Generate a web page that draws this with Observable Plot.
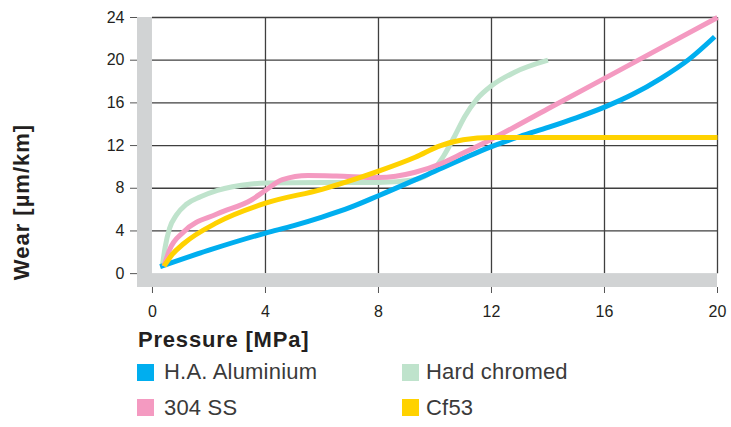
<!DOCTYPE html>
<html><head><meta charset="utf-8">
<script src="https://cdn.jsdelivr.net/npm/d3@7"></script>
<script src="https://cdn.jsdelivr.net/npm/@observablehq/plot@0.6"></script>
<style>
body{margin:0;background:#fff;font-family:"Liberation Sans",Arial,Helvetica,sans-serif;}
#wrap{position:relative;width:731px;height:427px;overflow:hidden;}
#chart{position:absolute;left:0;top:0;}
#ytitle{position:absolute;left:22px;top:202px;transform:translate(-50%,-50%) rotate(-90deg);font-size:22px;line-height:22px;font-weight:bold;letter-spacing:1px;white-space:nowrap;color:#231f20;}
#xtitle{position:absolute;left:138px;top:329px;font-size:22px;line-height:22px;font-weight:bold;letter-spacing:0.8px;color:#231f20;white-space:nowrap;}
.leg{position:absolute;font-size:22px;line-height:22px;color:#3a3a3a;white-space:nowrap;letter-spacing:0.2px;}
.sw{position:absolute;width:17px;height:17px;}
</style></head>
<body>
<div id="wrap"><div id="chart"></div><div id="ytitle">Wear [µm/km]</div><div id="xtitle">Pressure [MPa]</div><div id="legend"></div></div>
<script>
// Tick labels
const xTicks = [0, 4, 8, 12, 16, 20];
const yTicks = [0, 4, 8, 12, 16, 20, 24];

// Series names and colours
const seriesNames = ["H.A. Aluminium", "Hard chromed", "304 SS", "Cf53"];
const seriesColors = ["#00aeef", "#bfe3cc", "#f49ac1", "#ffd200"];

// H.A. Aluminium
const aluX = [0.27, 2, 4, 5, 6, 7, 8, 10, 12, 13, 14, 15, 16, 17, 18, 19, 19.9];
const aluY = [0.65, 2.2, 3.8, 4.5, 5.3, 6.2, 7.3, 9.6, 11.9, 12.85, 13.7, 14.6, 15.6, 16.8, 18.3, 20.1, 22.2];
// Hard chromed
const chrX = [0.35, 0.45, 0.6, 0.85, 1.2, 1.7, 2.3, 3.5, 4, 6, 8, 9.3, 9.85, 10.3, 10.7, 11.05, 11.5, 12, 12.8, 14];
const chrY = [0.75, 2.5, 4.2, 5.5, 6.5, 7.2, 7.8, 8.4, 8.5, 8.55, 8.55, 8.8, 9.5, 11.0, 12.9, 14.7, 16.4, 17.6, 18.85, 20];
// 304 SS
const ssX = [0.41, 0.6, 1.1, 2.3, 3.5, 4, 4.6, 5.5, 6.5, 8, 9.3, 10.2, 11, 12, 14, 16, 18, 20];
const ssY = [0.7, 2.2, 3.9, 5.6, 6.9, 7.8, 8.8, 9.2, 9.15, 9.0, 9.5, 10.3, 11.3, 12.6, 15.45, 18.3, 21.15, 24];
// Cf53
const cfX = [0.41, 0.7, 1.1, 2.3, 4, 6, 8, 9.3, 10.2, 11, 12, 14, 20];
const cfY = [0.7, 1.8, 2.8, 4.8, 6.6, 7.9, 9.6, 10.9, 12.0, 12.55, 12.75, 12.75, 12.75];

const xMin = -0.53, xMax = 20, yMin = -1.3, yMax = 24;

const toRows = (xs, ys, name) => xs.map((x, i) => ({x, y: ys[i], name}));
const series = {
  "H.A. Aluminium": toRows(aluX, aluY, "H.A. Aluminium"),
  "Hard chromed": toRows(chrX, chrY, "Hard chromed"),
  "304 SS": toRows(ssX, ssY, "304 SS"),
  "Cf53": toRows(cfX, cfY, "Cf53")
};
const colorOf = Object.fromEntries(seriesNames.map((n, i) => [n, seriesColors[i]]));
const drawOrder = ["Hard chromed", "H.A. Aluminium", "304 SS", "Cf53"];

const gridColor = "#3f3f3f";
const bandColor = "#d1d3d4";

const plot = Plot.plot({
  width: 731, height: 320,
  marginLeft: 137, marginRight: 14, marginTop: 17, marginBottom: 33,
  x: {domain: [xMin, xMax], ticks: xTicks, tickSize: 6, tickPadding: 12, label: null},
  y: {domain: [yMin, yMax], ticks: yTicks, tickSize: 7, tickPadding: 6, label: null},
  style: {fontFamily: '"Liberation Sans", Arial, Helvetica, sans-serif', fontSize: "16px", color: "#231f20", background: "#fff"},
  marks: [
    Plot.ruleY(yTicks.filter(d => d > 0), {x1: 0, x2: xMax, stroke: gridColor, strokeWidth: 1.3}),
    Plot.ruleX(xTicks.filter(d => d > 0), {y1: 0, y2: yMax, stroke: gridColor, strokeWidth: 1.3}),
    Plot.rect([{x1: xMin, x2: 0, y1: yMin, y2: yMax}], {x1: "x1", x2: "x2", y1: "y1", y2: "y2", fill: bandColor}),
    Plot.rect([{x1: xMin, x2: xMax, y1: yMin, y2: 0}], {x1: "x1", x2: "x2", y1: "y1", y2: "y2", fill: bandColor}),
    ...drawOrder.map(n => Plot.line(series[n], {x: "x", y: "y", stroke: colorOf[n], strokeWidth: 5, curve: "monotone-x", strokeLinecap: "butt"})),
    Plot.axisX({ticks: xTicks, tickSize: 6, tickPadding: 12, fontSize: 16, stroke: "#555"}),
    Plot.axisY({ticks: yTicks, tickSize: 7, tickPadding: 6, fontSize: 16, stroke: "#555"})
  ]
});
document.getElementById("chart").appendChild(plot);

// Legend
const legPos = [
  {sx: 137, sy: 364, tx: 164, ty: 361},
  {sx: 402, sy: 364, tx: 426, ty: 361},
  {sx: 137, sy: 399, tx: 164, ty: 397},
  {sx: 402, sy: 399, tx: 426, ty: 397}
];
const legend = document.getElementById("legend");
seriesNames.forEach((n, i) => {
  const p = legPos[i];
  const sw = document.createElement("div");
  sw.className = "sw"; sw.style.left = p.sx + "px"; sw.style.top = p.sy + "px"; sw.style.background = seriesColors[i];
  const t = document.createElement("div");
  t.className = "leg"; t.style.left = p.tx + "px"; t.style.top = p.ty + "px"; t.textContent = n;
  legend.appendChild(sw); legend.appendChild(t);
});
</script>
</body></html>
